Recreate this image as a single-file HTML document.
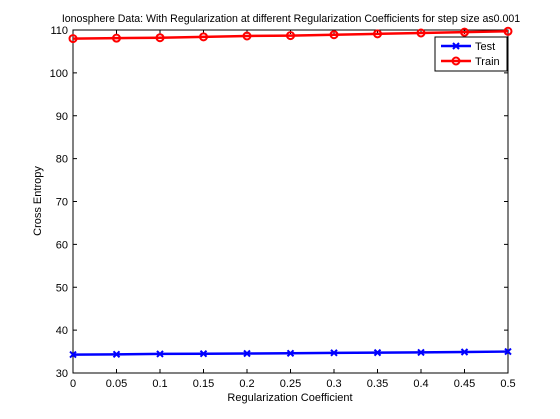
<!DOCTYPE html>
<html><head><meta charset="utf-8"><style>
body{margin:0;background:#fff;}
svg{display:block;font-family:"Liberation Sans",sans-serif;}
</style></head><body>
<svg id="c" width="560" height="419"></svg>
<script>
const xVals=[0,0.05,0.1,0.15,0.2,0.25,0.3,0.35,0.4,0.45,0.5];
const testVals=[34.3,34.35,34.45,34.5,34.55,34.6,34.7,34.75,34.8,34.9,35.0];
const trainVals=[108.0,108.1,108.2,108.4,108.6,108.7,108.9,109.1,109.3,109.5,109.7];
const xTicks=[0,0.05,0.1,0.15,0.2,0.25,0.3,0.35,0.4,0.45,0.5];
const yTicks=[30,40,50,60,70,80,90,100,110];
const L=73,R=508,T=30,B=373;
const sx=v=>L+(v-0)/(0.5)*(R-L);
const sy=v=>B-(v-30)/80*(B-T);
const svg=document.getElementById('c');
const NS='http://www.w3.org/2000/svg';
function mk(t,a,p){const e=document.createElementNS(NS,t);for(const k in a)e.setAttribute(k,a[k]);(p||svg).appendChild(e);return e;}
let e;
e=mk('rect',{x:L,y:T,width:R-L,height:B-T,fill:'#fff',stroke:'#000','stroke-width':1});


xTicks.forEach(v=>{
 const x=sx(v);
 mk('line',{x1:x,y1:B,x2:x,y2:B-4,stroke:'#000'});
 mk('line',{x1:x,y1:T,x2:x,y2:T+4,stroke:'#000'});
 e=mk('text',{x:x,y:B+14,'font-size':11,'text-anchor':'middle'});e.textContent=String(v);
 
 
});
yTicks.forEach(v=>{
 const y=sy(v);
 mk('line',{x1:L,y1:y,x2:L+4,y2:y,stroke:'#000'});
 mk('line',{x1:R,y1:y,x2:R-4,y2:y,stroke:'#000'});
 e=mk('text',{x:L-5,y:y+4,'font-size':11,'text-anchor':'end'});e.textContent=String(v);
 
 
});
function series(vals,color,marker,name){
 const g=mk('g',{});
 
 
 mk('polyline',{points:vals.map((v,i)=>sx(xVals[i])+','+sy(v)).join(' '),fill:'none',stroke:color,'stroke-width':2.5},g);
 vals.forEach((v,i)=>{
  const x=sx(xVals[i]),y=sy(v);
  if(marker==='o')mk('circle',{cx:x,cy:y,r:3.5,fill:'none',stroke:color,'stroke-width':2},g);
  else{mk('path',{d:`M${x-3},${y-3}L${x+3},${y+3}M${x-3},${y+3}L${x+3},${y-3}`,stroke:color,'stroke-width':2},g);}
 });
}
series(testVals,'#0000ff','x','test-series');
series(trainVals,'#ff0000','o','train-series');
e=mk('text',{x:291,y:22,'font-size':10.6,'text-anchor':'middle'});
e.textContent='Ionosphere Data: With Regularization at different Regularization Coefficients for step size as0.001';


e=mk('text',{x:290,y:401,'font-size':11,'text-anchor':'middle'});
e.textContent='Regularization Coefficient';


e=mk('text',{x:0,y:0,'font-size':11,'text-anchor':'middle',transform:'translate(41,201) rotate(-90)'});
e.textContent='Cross Entropy';


const lg=mk('g',{});


mk('rect',{x:435,y:37,width:72,height:34,fill:'#fff',stroke:'#000'},lg);
mk('line',{x1:441,y1:46,x2:471,y2:46,stroke:'#0000ff','stroke-width':2.5},lg);
mk('path',{d:'M453,43L459,49M453,49L459,43',stroke:'#0000ff','stroke-width':2},lg);
e=mk('text',{x:475,y:50,'font-size':11},lg);e.textContent='Test';


mk('line',{x1:441,y1:61,x2:471,y2:61,stroke:'#ff0000','stroke-width':2.5},lg);
mk('circle',{cx:456,cy:61,r:3.5,fill:'none',stroke:'#ff0000','stroke-width':2},lg);
e=mk('text',{x:475,y:65,'font-size':11},lg);e.textContent='Train';


</script>
</body></html>
